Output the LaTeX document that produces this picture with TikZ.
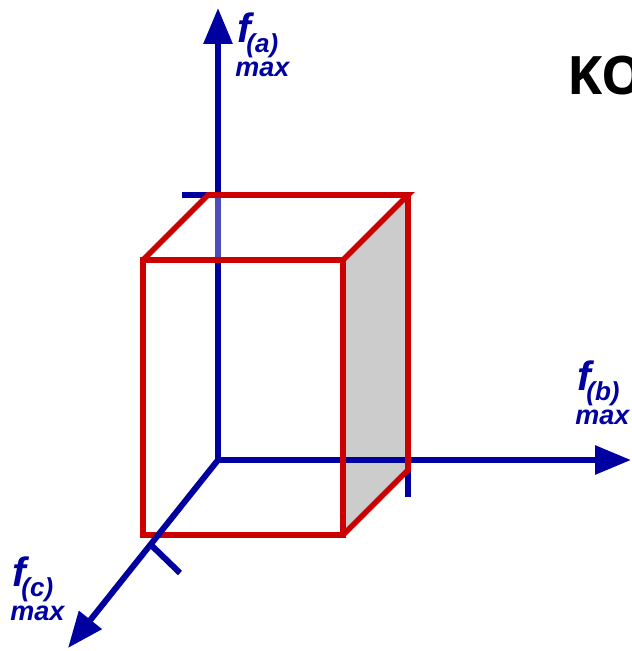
\documentclass[tikz,border=0pt]{standalone}
\usepackage{fontspec}
\setmainfont{Liberation Sans}
\newfontfamily\fuenteTitulo{Open Sans}
\usetikzlibrary{arrows.meta}
\definecolor{ejeazul}{RGB}{0,0,160}
\definecolor{cajarojo}{RGB}{204,0,0}
\definecolor{carasombra}{RGB}{204,204,204}
\newcommand{\EtiquetaMax}[4]{%
  \node[etiq,font=\fontsize{20.5}{20.5}\selectfont\bfseries\itshape] (#1) at (#2,#3) {f};
  \node[etiq,font=\fontsize{13}{13}\selectfont\bfseries\itshape] (#1sub)
    at ([xshift=4.5pt,yshift=-5pt]#1.base west) {(#4)};
  \node[etiq,font=\fontsize{13.5}{13.5}\selectfont\bfseries\itshape] (#1max)
    at ([xshift=-1pt,yshift=-17pt]#1.base west) {max};
}

\begin{document}
\begin{tikzpicture}[x=0.5pt,y=-0.5pt,
    eje/.style={ejeazul,line width=3pt},
    flecha/.style={eje,-{Triangle[length=18pt,width=14pt]}},
    arista/.style={cajarojo,line width=2.8pt},
    etiq/.style={anchor=base west,inner sep=0pt,text=ejeazul}]
  \useasboundingbox (0,0) rectangle (631,651);

  % ejes
  \coordinate (O) at (218,460);
  \coordinate (Za) at (218,8);
  \coordinate (Yb) at (631,460);
  \coordinate (Xc) at (68,648);

  % caja
  \coordinate (A) at (143,260);
  \coordinate (B) at (343,260);
  \coordinate (C) at (343,535);
  \coordinate (D) at (143,535);
  \coordinate (E) at (208,195);
  \coordinate (F) at (408,195);
  \coordinate (G) at (408,470);

  \fill[carasombra] (B) -- (F) -- (G) -- (C) -- cycle;
  \draw[flecha] (O) -- (Za);
  \draw[flecha] (O) -- (Yb);
  \coordinate (ta) at (182,195);
  \draw[eje] (ta) -- (O |- E);
  \coordinate (tb) at (408,497);
  \draw[eje] (O -| G) -- (tb);

  \fill[white,fill opacity=0.3] (A) -- (E) -- (F) -- (B) -- cycle;
  \draw[arista] (A) -- (B) -- (C) -- (D) -- cycle;
  \draw[arista] (A) -- (E) -- (F) -- (B) (F) -- (G) -- (C);

  \draw[flecha] (O) -- (Xc);
  \coordinate (tc1) at (149,543);
  \coordinate (tc2) at (180,573);
  \draw[eje] (tc1) -- (tc2);

  % etiquetas
  \EtiquetaMax{fa}{237}{43}{a}
  \EtiquetaMax{fb}{577}{390}{b}
  \EtiquetaMax{fc}{12}{586}{c}
  \node[anchor=base west,inner sep=0pt,
    font=\fuenteTitulo\fontsize{26.5}{26.5}\selectfont\bfseries] (titulo) at (567,95) {KO};
\end{tikzpicture}
\end{document}
